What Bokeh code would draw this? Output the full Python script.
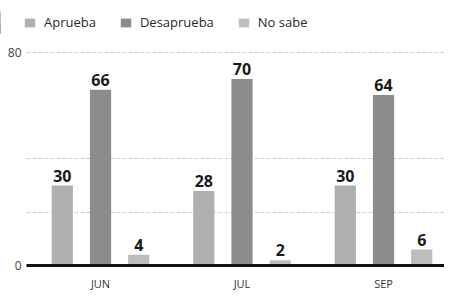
from bokeh.plotting import figure
from bokeh.layouts import column
from bokeh.models import ColumnDataSource, Range1d, FixedTicker, Legend, LegendItem
from bokeh.transform import dodge
from bokeh.core.properties import value
from bokeh.embed import file_html
from bokeh.resources import INLINE

months = ["JUN", "JUL", "SEP"]
aprueba = [30, 28, 30]
desaprueba = [66, 70, 64]
no_sabe = [4, 2, 6]
series_names = ["Aprueba", "Desaprueba", "No sabe"]
colors = ["#b0b0b0", "#8c8c8c", "#bdbdbd"]

idx = list(range(len(months)))
src = ColumnDataSource(dict(
    x=idx,
    aprueba=aprueba, desaprueba=desaprueba, no_sabe=no_sabe,
    aprueba_t=[str(v) for v in aprueba],
    desaprueba_t=[str(v) for v in desaprueba],
    no_sabe_t=[str(v) for v in no_sabe],
))
fields = ["aprueba", "desaprueba", "no_sabe"]

FONT = "Open Sans"

# ---- legend strip (its bars sit outside its own ranges; only the legend shows) ----
lg = figure(width=444, height=34, output_backend="svg", toolbar_location=None,
            x_axis_type=None, y_axis_type=None,
            x_range=Range1d(10, 11), y_range=Range1d(0, 100),
            min_border=0)
lg.frame_align = False
lg.outline_line_color = None
lg.xgrid.visible = False
lg.ygrid.visible = False
items = []
for f, name, c in zip(fields, series_names, colors):
    r = lg.vbar(x="x", top=f, width=0.1, source=src, fill_color=c, line_color=None)
    items.append(LegendItem(label=name, renderers=[r]))
legend = Legend(items=items, orientation="horizontal", location=(23, 3),
                padding=0, margin=0, spacing=23, glyph_width=13, glyph_height=11,
                label_standoff=8, label_height=12, label_width=10,
                label_text_font=FONT, label_text_font_size="13px",
                label_text_color="#2a2a2a", border_line_color=None,
                background_fill_alpha=0)
lg.add_layout(legend, "center")

# ---- main chart ----
p = figure(width=444, height=259, output_backend="svg", toolbar_location=None,
           x_range=Range1d(-0.523, 2.431), y_range=Range1d(0, 86.76),
           min_border_left=26, min_border_right=0, min_border_top=0,
           min_border_bottom=10)
p.outline_line_color = None
p.background_fill_color = "white"

offsets = [-0.27, 0.0, 0.27]
for f, off, c in zip(fields, offsets, colors):
    p.vbar(x=dodge("x", off), top=f, width=0.15, source=src,
           fill_color=c, line_color=None)
    p.text(x=dodge("x", off), y=f, text=f + "_t", source=src,
           text_align="center", text_baseline="bottom", y_offset=-4,
           text_font=value(FONT), text_font_style="bold",
           text_font_size="16px", text_color="#1a1a1a")

# x axis
p.xaxis.ticker = FixedTicker(ticks=idx)
p.xaxis.major_label_overrides = {i: m for i, m in zip(idx, months)}
p.xaxis.axis_line_color = "#111111"
p.xaxis.axis_line_width = 3
p.xaxis.major_tick_line_color = None
p.xaxis.minor_tick_line_color = None
p.xaxis.major_tick_out = 0
p.xaxis.major_tick_in = 0
p.xaxis.minor_tick_out = 0
p.xaxis.axis_label = None
p.xaxis.axis_label_standoff = 0
p.xaxis.major_label_standoff = 10
p.xaxis.major_label_text_font = FONT
p.xaxis.major_label_text_font_size = "11px"
p.xaxis.major_label_text_color = "#333333"
p.xgrid.grid_line_color = None

# y axis
p.yaxis.ticker = FixedTicker(ticks=[0, 80])
p.yaxis.axis_line_color = None
p.yaxis.major_tick_line_color = None
p.yaxis.minor_tick_line_color = None
p.yaxis.major_tick_out = 0
p.yaxis.major_tick_in = 0
p.yaxis.minor_tick_out = 0
p.yaxis.axis_label = None
p.yaxis.axis_label_standoff = 0
p.yaxis.major_label_standoff = 5
p.yaxis.major_label_text_font = FONT
p.yaxis.major_label_text_font_size = "12px"
p.yaxis.major_label_text_color = "#444444"
p.ygrid.ticker = FixedTicker(ticks=[20, 40, 80])
p.ygrid.grid_line_color = "#cfcfcf"
p.ygrid.grid_line_dash = "4 2"
p.ygrid.grid_line_width = 1

layout = column(lg, p, spacing=0)
open("out.html", "w").write(file_html(layout, INLINE))
